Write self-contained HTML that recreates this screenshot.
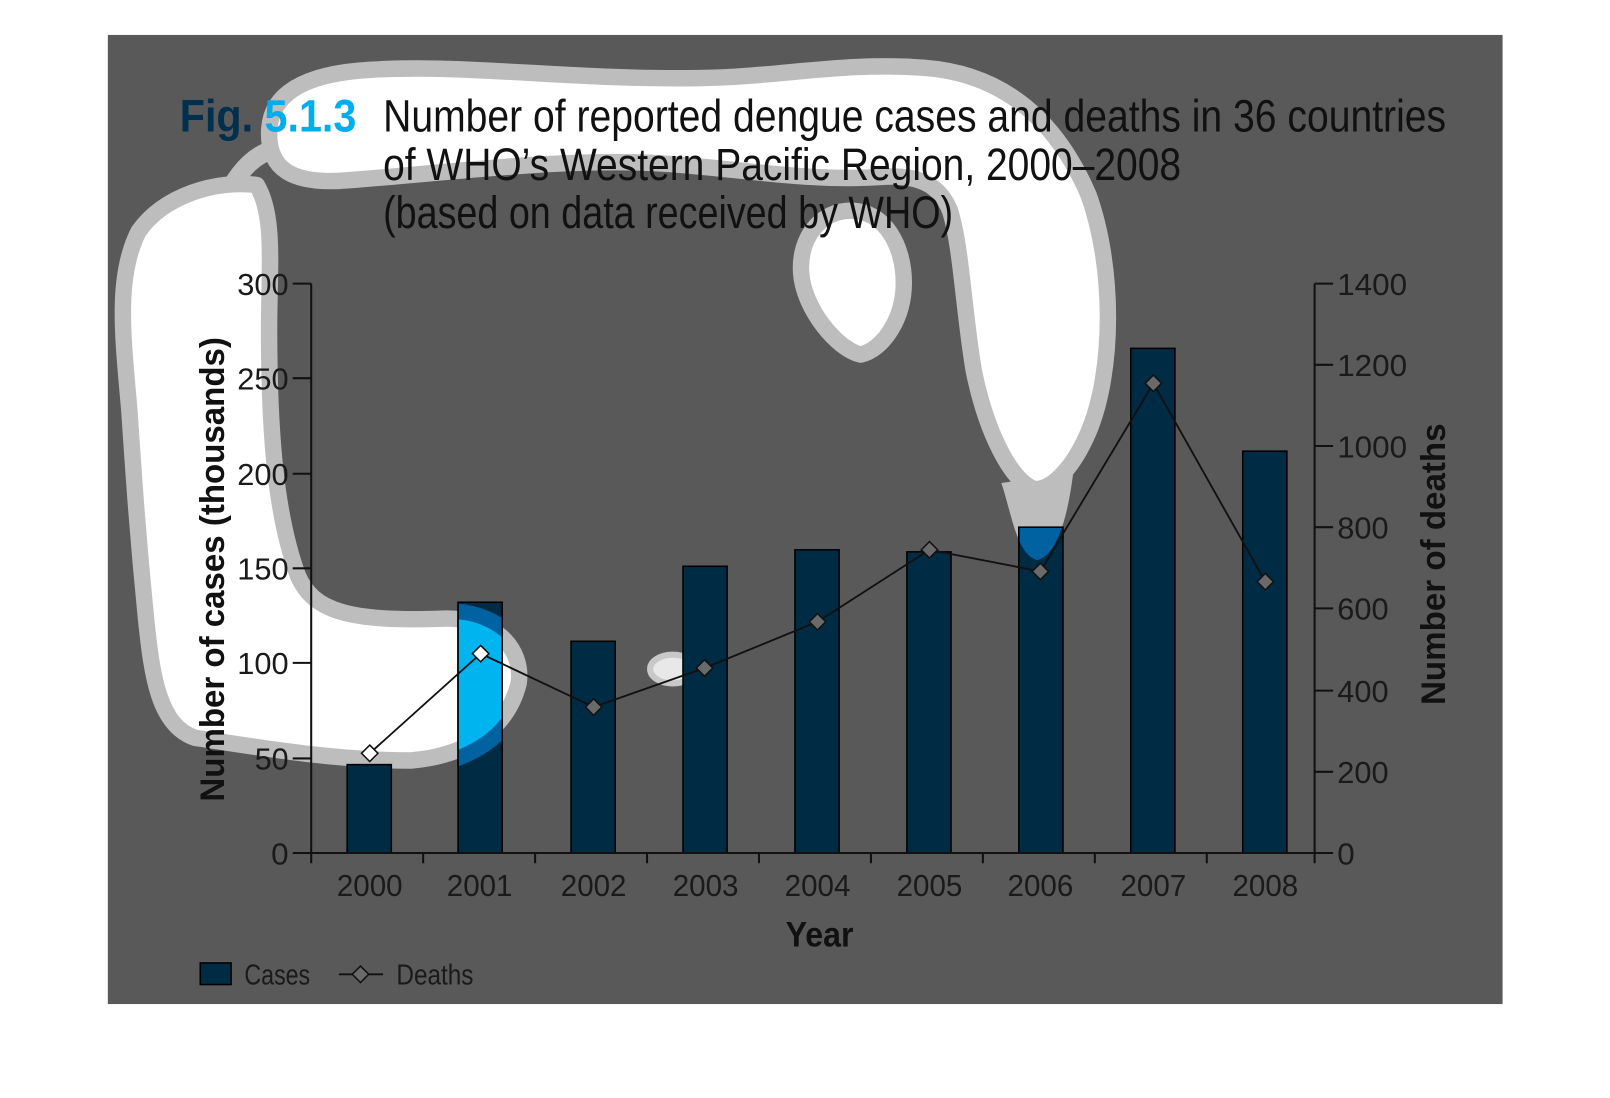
<!DOCTYPE html>
<html><head><meta charset="utf-8"><style>html,body{margin:0;padding:0;background:#fff;overflow:hidden}svg{display:block}</style></head>
<body>
<svg width="1610" height="1098" viewBox="0 0 1567.6 1068.4" preserveAspectRatio="none" xmlns="http://www.w3.org/2000/svg" font-family="Liberation Sans, sans-serif">
<defs>
<path id="b1" d="M250,180 C268,210 262,260 262,320 C262,420 268,500 290,560 C305,595 340,605 430,602 C480,600 510,630 505,665 C495,705 460,735 400,740 C320,740 240,725 190,718 C155,706 148,660 142,600 C134,520 130,460 126,400 C120,330 112,270 135,225 C160,190 210,175 250,180 Z"/>
<path id="b2" d="M262,130 C262,95 290,72 360,68 C450,62 560,78 680,76 C760,75 820,60 900,66 C980,72 1030,120 1060,190 C1085,260 1085,360 1060,420 C1045,455 1025,476 1008,476 C985,470 960,420 948,360 C938,300 936,240 925,205 C915,180 895,170 860,172 C780,178 700,160 620,158 C520,156 420,170 330,176 C285,178 262,165 262,130 Z"/>
<path id="b3" d="M828,205 C862,205 880,240 880,275 C880,310 860,340 838,345 C815,340 782,300 780,265 C778,230 800,205 828,205 Z"/>
<path id="tip" d="M975,470 C985,500 990,540 1010,545 C1030,540 1040,500 1045,460 Z"/>
<mask id="mHalo"><g fill="#fff" stroke="#fff" stroke-width="30" stroke-linejoin="round"><use href="#b1"/><use href="#b2"/><use href="#b3"/></g><use href="#tip" fill="#fff"/></mask>
<mask id="mWhite"><g fill="#fff"><use href="#b1"/><use href="#b2"/><use href="#b3"/></g></mask>
<g id="bars" stroke="#000" stroke-width="1.5">
<rect x="446" y="586" width="43" height="244"/>
<rect x="556" y="624" width="43" height="206"/>
<rect x="665" y="551" width="43" height="279"/>
<rect x="774" y="535" width="43" height="295"/>
<rect x="883" y="537" width="43" height="293"/>
<rect x="992" y="513" width="43" height="317"/>
<rect x="1101" y="339" width="43" height="491"/>
<rect x="1210" y="439" width="43" height="391"/>
</g>
</defs>
<rect x="105" y="34" width="1358" height="943" fill="#595959"/>
<path d="M225,182 C235,165 248,150 268,145" stroke="#bdbdbd" stroke-width="18" fill="none"/>
<use href="#tip" fill="#bdbdbd"/>
<g fill="#fff" stroke="#bdbdbd" stroke-width="16" stroke-linejoin="round">
<use href="#b1"/><use href="#b2"/><use href="#b3"/>
</g>
<ellipse cx="655" cy="651" rx="22" ry="14" fill="#e8e8e8" stroke="#c8c8c8" stroke-width="6"/>
<rect x="338" y="744" width="43" height="86" fill="#002b45" stroke="#000" stroke-width="1.5"/>
<g fill="#002b45"><use href="#bars"/></g>
<g fill="#0062a0" mask="url(#mHalo)"><use href="#bars"/></g>
<g fill="#00b4f0" mask="url(#mWhite)"><use href="#bars"/></g>
<text x="175" y="128" font-size="44" font-weight="bold" textLength="172" lengthAdjust="spacingAndGlyphs"><tspan fill="#00304e">Fig. </tspan><tspan fill="#00aeef">5.1.3</tspan></text>
<g font-size="44" fill="#111">
<text x="373" y="128" textLength="1035" lengthAdjust="spacingAndGlyphs">Number of reported dengue cases and deaths in 36 countries</text>
<text x="373" y="175" textLength="777" lengthAdjust="spacingAndGlyphs">of WHO’s Western Pacific Region, 2000–2008</text>
<text x="373" y="222" textLength="555" lengthAdjust="spacingAndGlyphs">(based on data received by WHO)</text>
</g>
<g stroke="#111" stroke-width="2" fill="none">
<path d="M303,276 V830 H1280 V276"/>
<path d="M285,276H303M285,368H303M285,461H303M285,553H303M285,645H303M285,738H303M285,830H303"/>
<path d="M1280,276H1298M1280,355H1298M1280,434H1298M1280,513H1298M1280,592H1298M1280,672H1298M1280,751H1298M1280,830H1298"/>
<path d="M303,830v10M412,830v10M521,830v10M630,830v10M739,830v10M848,830v10M957,830v10M1066,830v10M1175,830v10M1280,830v10"/>
</g>
<g font-size="30" fill="#1a1a1a" text-anchor="end">
<text x="281" y="287" textLength="50" lengthAdjust="spacingAndGlyphs">300</text>
<text x="281" y="379" textLength="50" lengthAdjust="spacingAndGlyphs">250</text>
<text x="281" y="472" textLength="50" lengthAdjust="spacingAndGlyphs">200</text>
<text x="281" y="564" textLength="50" lengthAdjust="spacingAndGlyphs">150</text>
<text x="281" y="656" textLength="50" lengthAdjust="spacingAndGlyphs">100</text>
<text x="281" y="749" textLength="33" lengthAdjust="spacingAndGlyphs">50</text>
<text x="281" y="841" textLength="17" lengthAdjust="spacingAndGlyphs">0</text>
</g>
<g font-size="30" fill="#1a1a1a">
<text x="1302" y="287" textLength="68" lengthAdjust="spacingAndGlyphs">1400</text>
<text x="1302" y="366" textLength="68" lengthAdjust="spacingAndGlyphs">1200</text>
<text x="1302" y="445" textLength="68" lengthAdjust="spacingAndGlyphs">1000</text>
<text x="1302" y="524" textLength="50" lengthAdjust="spacingAndGlyphs">800</text>
<text x="1302" y="603" textLength="50" lengthAdjust="spacingAndGlyphs">600</text>
<text x="1302" y="683" textLength="50" lengthAdjust="spacingAndGlyphs">400</text>
<text x="1302" y="762" textLength="50" lengthAdjust="spacingAndGlyphs">200</text>
<text x="1302" y="841" textLength="17" lengthAdjust="spacingAndGlyphs">0</text>
</g>
<g font-size="30" fill="#1a1a1a" text-anchor="middle">
<text x="360" y="872" textLength="64" lengthAdjust="spacingAndGlyphs">2000</text><text x="467" y="872" textLength="64" lengthAdjust="spacingAndGlyphs">2001</text><text x="578" y="872" textLength="64" lengthAdjust="spacingAndGlyphs">2002</text>
<text x="687" y="872" textLength="64" lengthAdjust="spacingAndGlyphs">2003</text><text x="796" y="872" textLength="64" lengthAdjust="spacingAndGlyphs">2004</text><text x="905" y="872" textLength="64" lengthAdjust="spacingAndGlyphs">2005</text>
<text x="1013" y="872" textLength="64" lengthAdjust="spacingAndGlyphs">2006</text><text x="1123" y="872" textLength="64" lengthAdjust="spacingAndGlyphs">2007</text><text x="1232" y="872" textLength="64" lengthAdjust="spacingAndGlyphs">2008</text>
</g>
<text x="798" y="921" font-size="34" font-weight="bold" fill="#111" text-anchor="middle" textLength="66" lengthAdjust="spacingAndGlyphs">Year</text>
<text transform="translate(218,554) rotate(-90)" font-size="33" font-weight="bold" fill="#111" text-anchor="middle" textLength="452" lengthAdjust="spacingAndGlyphs">Number of cases (thousands)</text>
<text transform="translate(1407,549) rotate(-90)" font-size="33" font-weight="bold" fill="#111" text-anchor="middle" textLength="274" lengthAdjust="spacingAndGlyphs">Number of deaths</text>
<polyline points="360,733 468,636 578,688 686,650 796,605 905,535 1013,556 1123,373 1232,566" fill="none" stroke="#111" stroke-width="1.8"/>
<g stroke="#111" stroke-width="1.5">
<path d="M360,725l8,8l-8,8l-8,-8z" fill="#fff"/>
<path d="M468,628l8,8l-8,8l-8,-8z" fill="#fff"/>
<path d="M578,680l8,8l-8,8l-8,-8z" fill="#6a6a6a"/>
<path d="M686,642l8,8l-8,8l-8,-8z" fill="#6a6a6a"/>
<path d="M796,597l8,8l-8,8l-8,-8z" fill="#6a6a6a"/>
<path d="M905,527l8,8l-8,8l-8,-8z" fill="#6a6a6a"/>
<path d="M1013,548l8,8l-8,8l-8,-8z" fill="#6a6a6a"/>
<path d="M1123,365l8,8l-8,8l-8,-8z" fill="#6a6a6a"/>
<path d="M1232,558l8,8l-8,8l-8,-8z" fill="#6a6a6a"/>
</g>
<rect x="195" y="937" width="30" height="21" fill="#002b45" stroke="#000" stroke-width="1.5"/>
<text x="238" y="958" font-size="28" fill="#1a1a1a" textLength="64" lengthAdjust="spacingAndGlyphs">Cases</text>
<path d="M330,948H373" stroke="#111" stroke-width="1.8"/>
<path d="M351,940l8,8l-8,8l-8,-8z" fill="#6a6a6a" stroke="#111" stroke-width="1.5"/>
<text x="386" y="958" font-size="28" fill="#1a1a1a" textLength="75" lengthAdjust="spacingAndGlyphs">Deaths</text>
</svg>
</body></html>
